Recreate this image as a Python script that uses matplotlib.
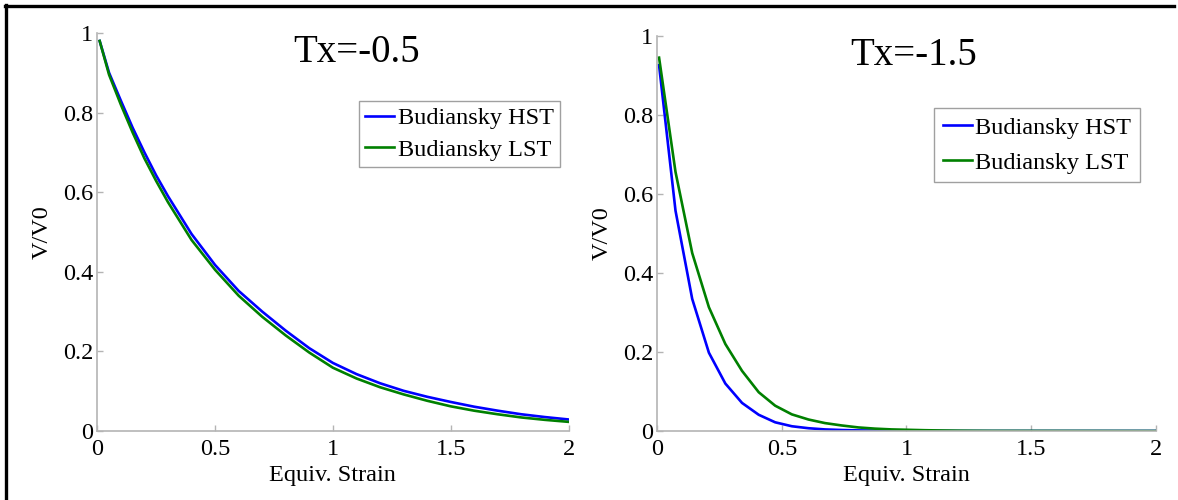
import matplotlib
matplotlib.use('Agg')
import matplotlib.pyplot as plt
from matplotlib.lines import Line2D

###############################
###          DATA           ###
###############################
# Tx = -0.5 panel
strain_left = [0.01, 0.05, 0.1, 0.15, 0.2, 0.25, 0.3, 0.4, 0.5, 0.6, 0.7, 0.8, 0.9, 1.0,
               1.1, 1.2, 1.3, 1.4, 1.5, 1.6, 1.7, 1.8, 1.9, 2.0]
hst_left = [0.98, 0.90, 0.83, 0.762, 0.70, 0.642, 0.59, 0.495, 0.417, 0.352, 0.300,
            0.252, 0.208, 0.171, 0.143, 0.120, 0.101, 0.086, 0.073, 0.061, 0.051,
            0.042, 0.035, 0.029]
lst_left = [0.98, 0.895, 0.82, 0.75, 0.685, 0.628, 0.575, 0.48, 0.405, 0.340, 0.287,
            0.240, 0.197, 0.159, 0.132, 0.110, 0.092, 0.076, 0.062, 0.051, 0.042,
            0.034, 0.028, 0.023]

# Tx = -1.5 panel
strain_right = [0.007, 0.073, 0.14, 0.207, 0.273, 0.34, 0.407, 0.473, 0.54, 0.607,
                0.673, 0.74, 0.807, 0.873, 0.94, 1.007, 1.073, 1.14, 1.207, 1.273,
                1.34, 2.0]
hst_right = [0.925, 0.557, 0.334, 0.198, 0.120, 0.071, 0.041, 0.022, 0.012, 0.007,
             0.004, 0.0025, 0.0015, 0.001, 0.0005, 0.0003, 0.0002, 0.0001, 0.0, 0.0,
             0.0, 0.0]
lst_right = [0.944, 0.655, 0.45, 0.313, 0.220, 0.152, 0.098, 0.064, 0.042, 0.029,
             0.020, 0.014, 0.009, 0.006, 0.004, 0.003, 0.002, 0.0013, 0.0008, 0.0005,
             0.0003, 0.0]

titles = ['Tx=-0.5', 'Tx=-1.5']
series_names = ['Budiansky HST', 'Budiansky LST']
xticks = [0, 0.5, 1, 1.5, 2]
yticks = [0, 0.2, 0.4, 0.6, 0.8, 1]
ytick_labels = ['0', '0.2', '0.4', '0.6', '0.8', '1']
xtick_labels = ['0', '0.5', '1', '1.5', '2']

###############################
###         STYLE           ###
###############################
plt.rcParams['font.family'] = ['Liberation Serif', 'DejaVu Serif']
axis_grey = '#b4b4b4'
blue = '#0000ff'
green = '#008000'

fig = plt.figure(figsize=(11.78, 5.0), dpi=100)

ax1 = fig.add_axes([0.0826, 0.138, 0.4, 0.796])
ax2 = fig.add_axes([0.558, 0.138, 0.423, 0.791])

# axes, x, hst, lst, title x, legend anchor, legend spacing, legend pad, ylabel x
panels = [
    (ax1, strain_left, hst_left, lst_left, 1.10, (0.4754, 0.798), 0.4, 0.25, -0.095),
    (ax2, strain_right, hst_right, lst_right, 1.03, (0.9677, 0.784), 0.55, 0.35, -0.09),
]

for i, (ax, xs, hst, lst, title_x, leg_anchor, lspace, bpad, ylab_x) in enumerate(panels):
    ax.plot(xs, hst, color=blue, lw=1.9, label=series_names[0])
    ax.plot(xs, lst, color=green, lw=1.9, label=series_names[1])
    ax.set_xlim(0, 2)
    ax.set_ylim(0, 1)
    ax.set_xticks(xticks)
    ax.set_xticklabels(xtick_labels)
    ax.set_yticks(yticks)
    ax.set_yticklabels(ytick_labels)
    for side in ['top', 'right']:
        ax.spines[side].set_visible(False)
    for side in ['left', 'bottom']:
        ax.spines[side].set_color(axis_grey)
        ax.spines[side].set_linewidth(1.2)
    ax.tick_params(direction='in', length=4, width=1, color=axis_grey,
                   labelsize=17.5, labelcolor='black')
    ax.tick_params(axis='x', pad=6)
    ax.tick_params(axis='y', pad=3)
    ax.set_xlabel('Equiv. Strain', fontsize=17.5)
    ax.set_ylabel('V/V0', fontsize=17.5)
    ax.xaxis.set_label_coords(0.5, -0.085)
    ax.yaxis.set_label_coords(ylab_x, 0.5)
    ax.text(title_x, 0.95, titles[i], fontsize=28, ha='center', va='center')
    leg = ax.legend(loc='upper right', bbox_to_anchor=leg_anchor,
                    bbox_transform=fig.transFigure, fontsize=17.5,
                    fancybox=False, framealpha=1, edgecolor='#a0a0a0',
                    handlelength=1.2, handletextpad=0.15, borderpad=bpad,
                    labelspacing=lspace, borderaxespad=0)
    leg.get_frame().set_linewidth(1.0)

###############################
###      OUTER FRAME        ###
###############################
fig.add_artist(Line2D([5 / 1178, 1174 / 1178], [1 - 6 / 500, 1 - 6 / 500],
                      color='black', lw=2.4, transform=fig.transFigure))
fig.add_artist(Line2D([6 / 1178, 6 / 1178], [0, 1 - 5 / 500],
                      color='black', lw=2.4, transform=fig.transFigure))

fig.savefig('out.png', dpi=100, facecolor='white')
